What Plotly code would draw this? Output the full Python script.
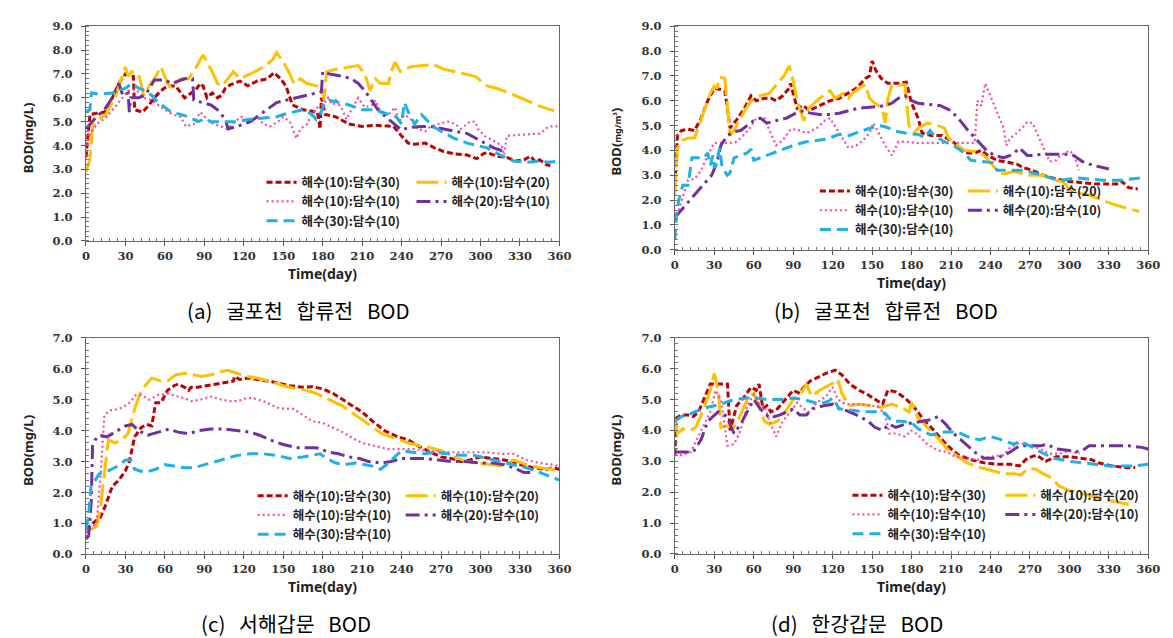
import plotly.graph_objects as go

# ---------------- data ----------------
series_names = ["해수(10):담수(30)", "해수(10):담수(20)", "해수(10):담수(10)",
                "해수(20):담수(10)", "해수(30):담수(10)"]
x_ticks = [0, 30, 60, 90, 120, 150, 180, 210, 240, 270, 300, 330, 360]
NB = "\u00a0\u00a0\u00a0"
captions = ["(a)" + NB + "굴포천" + NB + "합류전" + NB + "BOD",
            "(b)" + NB + "굴포천" + NB + "합류전" + NB + "BOD",
            "(c)" + NB + "서해갑문" + NB + "BOD",
            "(d)" + NB + "한강갑문" + NB + "BOD"]

# panel (a)
a_red_day = [0, 2, 3, 8, 14, 20, 25, 30, 34, 36, 37, 43, 48, 52, 57, 62, 68, 75, 80, 83, 87, 89, 92, 96, 100, 103, 106, 110, 117, 123, 130, 138, 143, 148, 152, 157, 165, 170, 176, 178, 179, 182, 190, 200, 210, 220, 234, 240, 245, 250, 258, 265, 272, 280, 290, 297, 302, 305, 313, 320, 327, 333, 338, 342, 345, 350, 353]
a_red_bod = [3.5, 4.6, 5.3, 5.35, 5.4, 6.0, 6.6, 7.0, 6.95, 6.9, 5.5, 5.4, 5.7, 6.0, 6.3, 6.5, 6.5, 6.0, 6.2, 6.3, 6.6, 6.5, 6.0, 6.2, 6.0, 6.1, 6.4, 6.55, 6.7, 6.5, 6.7, 6.8, 7.05, 6.8, 6.5, 5.7, 5.5, 5.45, 5.4, 4.7, 6.0, 5.3, 5.2, 4.9, 4.8, 4.85, 4.8, 4.4, 4.1, 4.05, 4.1, 3.9, 3.75, 3.65, 3.6, 3.45, 3.65, 3.7, 3.55, 3.5, 3.35, 3.4, 3.55, 3.3, 3.4, 3.2, 3.15]
a_yel_day = [0, 3, 5, 8, 12, 15, 22, 30, 32, 35, 40, 44, 48, 52, 57, 62, 65, 72, 78, 84, 89, 95, 100, 103, 108, 112, 117, 125, 135, 142, 145, 150, 155, 158, 163, 168, 175, 180, 181, 183, 190, 200, 207, 212, 216, 220, 224, 230, 232, 235, 239, 247, 258, 264, 272, 280, 290, 296, 305, 312, 322, 335, 345, 356]
a_yel_bod = [2.9, 3.4, 4.8, 5.0, 5.2, 5.3, 6.0, 7.3, 6.9, 7.1, 7.0, 6.1, 6.5, 6.8, 7.3, 6.6, 6.4, 6.8, 6.8, 7.3, 7.8, 7.2, 6.6, 6.5, 6.8, 7.1, 6.8, 7.0, 7.3, 7.6, 7.9, 7.5, 7.0, 6.6, 6.8, 6.6, 6.5, 6.3, 5.9, 7.1, 7.2, 7.3, 7.35, 7.0, 6.3, 6.8, 6.6, 6.6, 7.1, 7.5, 7.1, 7.3, 7.35, 7.4, 7.2, 7.1, 7.0, 6.9, 6.5, 6.4, 6.2, 5.9, 5.65, 5.45]
a_pnk_day = [1, 3, 10, 14, 22, 28, 32, 38, 44, 50, 55, 60, 66, 72, 76, 82, 87, 92, 97, 103, 108, 113, 118, 125, 130, 135, 140, 146, 150, 155, 160, 163, 168, 172, 176, 180, 184, 188, 190, 195, 198, 203, 207, 212, 218, 220, 225, 230, 235, 238, 242, 247, 252, 258, 262, 268, 275, 281, 285, 292, 296, 298, 303, 310, 316, 318, 320, 330, 345, 352, 360]
a_pnk_bod = [4.0, 4.5, 5.0, 5.1, 5.6, 6.0, 6.3, 6.35, 6.0, 5.9, 5.7, 5.5, 5.3, 5.2, 4.8, 4.9, 5.4, 5.1, 4.9, 4.8, 4.7, 5.0, 5.2, 5.0, 5.2, 4.9, 4.8, 5.0, 5.2, 5.0, 4.3, 4.7, 4.9, 5.3, 5.6, 5.7, 6.0, 5.7, 5.9, 5.5, 5.1, 5.6, 6.0, 5.6, 5.7, 5.9, 5.3, 5.3, 5.6, 5.0, 5.3, 5.1, 4.7, 4.6, 4.8, 4.9, 5.0, 4.9, 4.7, 5.0, 5.0, 4.7, 4.4, 4.2, 4.0, 3.6, 4.4, 4.45, 4.5, 4.8, 4.8]
a_cyn_day = [0, 3, 4, 10, 20, 25, 30, 35, 40, 45, 50, 55, 60, 65, 72, 78, 85, 90, 95, 105, 115, 125, 135, 145, 150, 158, 165, 172, 175, 178, 181, 185, 192, 200, 210, 220, 230, 236, 240, 242, 246, 250, 255, 260, 264, 270, 280, 290, 300, 305, 315, 325, 335, 345, 352, 360]
a_cyn_bod = [5.4, 5.5, 6.2, 6.15, 6.2, 6.3, 6.4, 6.6, 6.4, 6.3, 6.1, 5.8, 5.6, 5.4, 5.3, 5.2, 5.0, 5.1, 5.0, 5.0, 5.0, 5.1, 5.15, 5.2, 5.3, 5.4, 5.5, 5.3, 5.1, 5.3, 5.7, 5.9, 5.8, 5.7, 5.5, 5.5, 5.3, 5.2, 4.9, 5.8, 5.3, 4.9, 5.3, 5.0, 4.8, 4.6, 4.3, 4.1, 3.95, 3.9, 3.6, 3.35, 3.3, 3.35, 3.3, 3.35]
a_pur_day = [0, 3, 8, 14, 20, 25, 28, 32, 33, 34, 40, 45, 52, 60, 65, 75, 81, 82, 88, 95, 100, 106, 108, 115, 125, 130, 137, 145, 152, 160, 168, 175, 179, 180, 185, 195, 202, 207, 212, 217, 222, 228, 235, 240, 245, 255, 262, 270, 280, 290, 297, 303, 310, 318]
a_pur_bod = [4.7, 4.9, 5.2, 5.5, 6.0, 6.6, 6.1, 6.2, 5.4, 6.0, 6.0, 6.1, 6.75, 6.75, 6.6, 6.8, 6.8, 5.9, 5.8, 5.7, 5.5, 5.1, 4.7, 4.8, 5.0, 5.2, 5.5, 5.8, 5.9, 6.0, 6.1, 6.2, 6.25, 7.1, 7.0, 6.9, 6.8, 6.6, 6.3, 5.9, 5.5, 5.2, 4.9, 4.65, 4.75, 4.8, 4.8, 4.7, 4.6, 4.5, 4.3, 4.1, 3.9, 3.75]

# panel (b)
b_red_day = [0, 2, 5, 10, 15, 20, 25, 30, 35, 38, 42, 48, 53, 58, 62, 68, 73, 77, 82, 87, 88, 93, 98, 102, 110, 118, 125, 132, 138, 145, 148, 150, 153, 157, 162, 170, 176, 180, 185, 188, 195, 203, 210, 215, 220, 228, 233, 238, 245, 255, 260, 265, 272, 280, 290, 300, 310, 320, 330, 338, 340, 345, 352]
b_red_bod = [2.6, 4.6, 4.8, 4.85, 4.8, 5.3, 6.0, 6.5, 6.45, 6.4, 4.9, 5.3, 5.7, 6.2, 6.0, 6.1, 6.1, 6.0, 6.2, 6.5, 6.7, 5.7, 5.8, 5.6, 5.8, 6.0, 6.1, 6.3, 6.5, 6.9, 7.0, 7.6, 7.2, 6.9, 6.7, 6.7, 6.75, 5.9, 5.3, 4.7, 4.6, 4.6, 4.4, 4.2, 3.9, 3.9, 4.0, 3.8, 3.6, 3.5, 3.45, 3.3, 3.2, 3.0, 2.85, 2.75, 2.7, 2.65, 2.65, 2.65, 2.75, 2.5, 2.45]
b_yel_day = [0, 2, 6, 10, 15, 22, 27, 30, 32, 34, 38, 42, 45, 53, 58, 65, 72, 78, 83, 87, 90, 93, 97, 98, 102, 108, 115, 118, 122, 128, 132, 135, 140, 145, 148, 152, 155, 158, 160, 162, 165, 175, 178, 182, 185, 192, 200, 205, 208, 215, 220, 230, 235, 240, 245, 250, 258, 262, 270, 280, 288, 295, 300, 305, 315, 325, 335, 345, 353]
b_yel_bod = [2.2, 4.1, 4.4, 4.5, 4.5, 5.5, 6.3, 6.6, 6.5, 6.95, 6.9, 4.6, 4.8, 5.6, 6.0, 6.2, 6.3, 6.7, 7.0, 7.4, 6.8, 6.0, 5.4, 5.2, 5.7, 6.0, 6.3, 6.4, 6.1, 6.3, 6.1, 6.3, 6.5, 6.65, 6.1, 5.9, 5.8, 5.6, 5.1, 6.1, 6.6, 6.65, 5.0, 4.7, 4.9, 5.1, 5.0, 4.9, 4.5, 4.2, 4.0, 3.95, 3.8, 3.5, 3.2, 3.05, 3.15, 3.1, 3.0, 3.0, 2.8, 2.75, 2.45, 2.3, 2.2, 2.0, 1.8, 1.65, 1.55]
b_pnk_day = [1, 4, 7, 10, 15, 20, 25, 30, 35, 42, 47, 52, 57, 62, 68, 72, 77, 82, 88, 92, 100, 108, 114, 118, 125, 132, 138, 143, 148, 151, 155, 160, 165, 170, 175, 185, 200, 215, 228, 230, 233, 236, 240, 245, 250, 252, 255, 258, 264, 268, 272, 277, 282, 285, 290, 293, 297, 300, 304, 307]
b_pnk_bod = [1.2, 1.8, 2.3, 2.8, 2.85, 3.2, 3.8, 4.3, 4.3, 4.3, 4.35, 4.6, 4.9, 5.3, 5.3, 4.8, 4.2, 4.4, 4.85, 4.85, 4.7, 4.9, 5.2, 5.3, 4.7, 4.1, 4.2, 4.4, 4.7, 5.1, 4.7, 4.2, 3.8, 4.35, 4.35, 4.3, 4.3, 4.3, 4.3, 6.0, 5.8, 6.7, 6.2, 5.5, 4.9, 4.2, 4.5, 4.6, 4.9, 5.15, 5.1, 4.5, 3.9, 3.55, 3.6, 3.8, 3.9, 4.0, 3.8, 3.2]
b_cyn_day = [0, 1, 3, 6, 10, 13, 18, 22, 25, 27, 29, 30, 32, 34, 36, 40, 42, 45, 50, 55, 58, 60, 70, 80, 90, 100, 115, 125, 133, 140, 148, 155, 160, 170, 180, 185, 190, 194, 197, 205, 212, 220, 225, 235, 242, 245, 255, 265, 272, 280, 288, 295, 305, 315, 325, 340, 350, 355]
b_cyn_bod = [0.4, 1.3, 2.0, 2.6, 2.6, 3.7, 3.7, 3.7, 3.9, 3.4, 3.8, 3.3, 3.5, 4.1, 3.3, 3.0, 3.1, 3.7, 3.8, 3.9, 4.05, 3.6, 3.8, 4.0, 4.2, 4.35, 4.45, 4.65, 4.6, 4.75, 4.9, 5.0, 4.95, 4.75, 4.65, 4.65, 4.5, 4.8, 4.6, 4.35, 4.2, 3.9, 3.6, 3.55, 3.5, 3.2, 3.2, 3.2, 3.1, 3.0, 2.85, 2.8, 2.9, 2.85, 2.8, 2.8, 2.85, 2.9]
b_pur_day = [0, 5, 12, 20, 28, 32, 35, 40, 45, 50, 55, 60, 65, 70, 77, 85, 92, 98, 103, 110, 118, 125, 132, 140, 150, 160, 165, 170, 175, 180, 185, 195, 202, 210, 217, 223, 230, 237, 243, 250, 255, 258, 262, 268, 272, 280, 290, 300, 303, 310, 318, 325, 330]
b_pur_bod = [1.3, 1.6, 2.0, 2.5, 3.0, 3.5, 4.2, 4.6, 4.75, 4.8, 5.0, 5.2, 5.3, 5.1, 5.2, 5.3, 5.5, 5.6, 5.5, 5.45, 5.45, 5.5, 5.6, 5.7, 5.75, 5.8, 5.9, 6.1, 6.2, 6.0, 5.9, 5.85, 5.8, 5.6, 5.2, 4.8, 4.4, 4.0, 3.8, 3.7, 3.8, 3.9, 4.1, 3.8, 3.8, 3.85, 3.85, 3.85, 3.8, 3.55, 3.4, 3.3, 3.25]

# panel (c)
c_red_day = [0, 5, 11, 15, 20, 25, 30, 33, 37, 42, 46, 50, 53, 57, 62, 67, 70, 75, 78, 80, 85, 92, 100, 108, 112, 113, 117, 123, 130, 137, 145, 155, 165, 172, 180, 188, 195, 203, 210, 218, 227, 237, 245, 253, 262, 270, 278, 285, 292, 300, 310, 318, 324, 330, 340, 350, 355, 360]
c_red_bod = [0.8, 1.0, 1.2, 1.6, 2.2, 2.4, 2.7, 3.0, 3.8, 4.1, 4.2, 4.15, 4.9, 4.9, 5.3, 5.45, 5.5, 5.4, 5.3, 5.4, 5.4, 5.45, 5.5, 5.55, 5.6, 5.75, 5.65, 5.7, 5.65, 5.6, 5.55, 5.45, 5.4, 5.42, 5.35, 5.2, 5.0, 4.8, 4.6, 4.3, 4.0, 3.8, 3.7, 3.5, 3.3, 3.15, 3.1, 3.0, 3.05, 3.15, 3.1, 3.05, 3.0, 2.9, 2.8, 2.75, 2.8, 2.75]
c_yel_day = [3, 8, 11, 14, 17, 22, 27, 32, 37, 42, 46, 50, 57, 62, 68, 75, 82, 88, 95, 102, 108, 115, 122, 130, 140, 150, 160, 168, 175, 185, 195, 205, 215, 225, 235, 245, 255, 262, 270, 280, 290, 300, 310, 318, 325, 335, 345, 355, 360]
c_yel_bod = [0.8, 0.9, 1.5, 2.7, 3.7, 3.6, 3.7, 3.9, 4.7, 5.3, 5.5, 5.7, 5.6, 5.6, 5.8, 5.85, 5.8, 5.75, 5.8, 5.9, 5.95, 5.85, 5.75, 5.7, 5.6, 5.45, 5.35, 5.3, 5.2, 5.0, 4.8, 4.5, 4.2, 3.9, 3.75, 3.6, 3.5, 3.45, 3.35, 3.15, 3.0, 2.95, 2.9, 2.85, 3.05, 2.9, 2.8, 2.75, 2.7]
c_pnk_day = [0, 8, 11, 14, 18, 25, 32, 38, 42, 48, 55, 62, 70, 75, 80, 87, 95, 103, 110, 115, 122, 127, 135, 145, 152, 158, 165, 172, 180, 188, 195, 203, 210, 220, 230, 240, 250, 260, 275, 290, 305, 315, 325, 335, 345, 355, 360]
c_pnk_bod = [0.7, 1.0, 2.5, 4.5, 4.65, 4.7, 4.85, 5.15, 5.15, 5.0, 5.15, 5.2, 5.1, 5.05, 4.95, 5.0, 5.1, 5.0, 4.95, 4.95, 5.05, 5.05, 4.95, 4.75, 4.7, 4.7, 4.5, 4.3, 4.25, 4.1, 3.95, 3.75, 3.6, 3.5, 3.4, 3.4, 3.4, 3.35, 3.3, 3.3, 3.3, 3.25, 3.25, 3.05, 2.95, 2.9, 2.85]
c_cyn_day = [0, 2, 4, 7, 10, 17, 24, 30, 34, 37, 45, 53, 60, 67, 75, 82, 90, 97, 105, 115, 125, 135, 145, 155, 165, 172, 178, 183, 190, 197, 205, 212, 218, 224, 230, 236, 240, 248, 258, 265, 275, 285, 295, 305, 315, 325, 335, 345, 355, 360]
c_cyn_bod = [0.8, 1.3, 2.3, 2.4, 2.6, 2.7, 2.85, 3.05, 3.05, 2.75, 2.65, 2.75, 2.9, 2.85, 2.8, 2.8, 2.9, 3.0, 3.1, 3.2, 3.25, 3.25, 3.2, 3.1, 3.15, 3.2, 3.25, 3.1, 2.95, 2.9, 2.95, 2.9, 2.85, 2.75, 2.95, 3.2, 3.35, 3.3, 3.25, 3.3, 3.25, 3.2, 3.2, 3.1, 3.0, 2.9, 2.8, 2.65, 2.5, 2.4]
c_pur_day = [0, 2, 4, 5, 7, 10, 16, 22, 30, 35, 40, 47, 55, 63, 70, 78, 86, 95, 105, 115, 125, 132, 140, 150, 160, 168, 175, 185, 192, 200, 208, 215, 225, 232, 240, 250, 258, 268, 278, 288, 300, 310, 318, 325, 333, 338]
c_pur_bod = [0.5, 0.6, 1.7, 3.5, 3.7, 3.85, 3.8, 3.95, 4.15, 4.2, 4.0, 3.85, 3.95, 4.05, 3.95, 3.9, 4.0, 4.05, 4.05, 4.0, 3.95, 3.85, 3.7, 3.55, 3.45, 3.45, 3.45, 3.3, 3.25, 3.15, 3.1, 3.0, 2.95, 3.0, 3.1, 3.1, 3.1, 3.05, 3.0, 3.0, 2.95, 2.95, 2.9, 2.8, 2.65, 2.65]

# panel (d)
d_red_day = [0, 1, 5, 10, 14, 18, 22, 27, 35, 40, 42, 47, 53, 58, 62, 64, 67, 70, 73, 78, 84, 90, 95, 98, 103, 110, 115, 122, 127, 133, 140, 147, 153, 158, 162, 168, 175, 182, 190, 197, 203, 210, 216, 225, 235, 245, 255, 262, 268, 275, 282, 290, 300, 310, 317, 322, 332, 342, 350]
d_red_bod = [3.2, 4.4, 4.5, 4.5, 4.45, 4.6, 5.0, 5.5, 5.5, 5.5, 4.0, 4.8, 5.1, 5.4, 5.3, 5.5, 4.7, 4.8, 4.6, 4.7, 5.0, 5.3, 5.2, 5.4, 5.6, 5.75, 5.85, 5.95, 5.8, 5.5, 5.3, 5.15, 5.0, 4.85, 5.3, 5.25, 5.05, 4.75, 4.3, 4.0, 3.7, 3.4, 3.2, 3.05, 2.95, 2.9, 2.9, 2.85, 3.1, 3.2, 3.0, 3.15, 3.15, 3.1, 3.05, 2.95, 2.85, 2.8, 2.8]
d_yel_day = [0, 2, 6, 12, 16, 22, 27, 30, 33, 35, 40, 45, 50, 55, 60, 64, 68, 72, 78, 84, 90, 96, 100, 104, 110, 117, 121, 124, 127, 133, 140, 150, 157, 165, 172, 178, 180, 185, 192, 200, 207, 215, 222, 232, 240, 250, 258, 263, 268, 274, 280, 287, 292, 300, 310, 318, 328, 340, 350]
d_yel_bod = [4.3, 3.9, 4.05, 4.0, 4.1, 4.7, 5.3, 5.85, 5.3, 4.1, 4.15, 4.1, 4.5, 5.0, 5.2, 4.8, 4.3, 4.2, 4.3, 4.6, 5.0, 5.2, 5.5, 5.1, 5.3, 5.45, 5.55, 5.65, 5.2, 4.8, 4.85, 4.8, 4.75, 4.85, 4.75, 4.6, 4.9, 4.4, 4.1, 3.75, 3.4, 3.15, 2.95, 2.8, 2.7, 2.6, 2.6, 2.55, 2.75, 2.75, 2.6, 2.45, 2.2, 2.05, 1.95, 1.85, 1.75, 1.65, 1.55]
d_pnk_day = [0, 5, 12, 20, 27, 31, 35, 40, 45, 50, 55, 60, 65, 68, 72, 77, 82, 88, 93, 98, 102, 108, 115, 120, 124, 130, 140, 150, 155, 160, 163, 168, 175, 180, 185, 192, 200, 207, 213, 222, 230, 240, 250, 255, 262, 270, 278, 285, 293, 300, 308]
d_pnk_bod = [3.2, 3.2, 3.3, 4.0, 4.6, 5.3, 5.0, 3.5, 3.55, 4.0, 4.8, 5.15, 4.8, 4.8, 4.3, 3.8, 4.3, 4.6, 4.9, 4.7, 4.6, 4.9, 5.1, 5.4, 5.0, 4.85, 4.85, 4.8, 4.75, 4.5, 3.9, 3.9, 3.8, 4.0, 3.85, 3.55, 3.35, 3.3, 3.15, 3.1, 3.05, 3.15, 3.2, 3.45, 3.6, 3.5, 3.4, 3.25, 3.25, 3.35, 3.25]
d_cyn_day = [0, 5, 10, 15, 25, 35, 45, 55, 62, 70, 80, 90, 98, 105, 110, 117, 120, 125, 135, 145, 155, 160, 165, 172, 180, 185, 195, 205, 215, 225, 232, 240, 248, 255, 258, 262, 270, 278, 288, 300, 310, 320, 330, 340, 350, 360]
d_cyn_bod = [4.3, 4.45, 4.5, 4.6, 4.75, 4.85, 5.0, 5.05, 5.05, 5.0, 5.0, 5.05, 5.0, 4.9, 4.85, 4.95, 5.05, 4.7, 4.65, 4.6, 4.6, 4.55, 4.3, 4.3, 4.25, 4.05, 3.85, 3.95, 3.95, 3.75, 3.7, 3.8, 3.7, 3.6, 3.55, 3.65, 3.5, 3.3, 3.1, 3.0, 2.95, 2.9, 2.85, 2.85, 2.85, 2.9]
d_pur_day = [0, 5, 14, 20, 25, 33, 38, 40, 45, 50, 55, 60, 65, 72, 80, 85, 90, 95, 100, 105, 113, 120, 125, 130, 138, 147, 152, 158, 163, 168, 175, 182, 188, 195, 200, 206, 212, 220, 228, 235, 245, 250, 255, 262, 270, 278, 283, 290, 300, 305, 310, 315, 325, 335, 345, 355, 360]
d_pur_bod = [3.3, 3.3, 3.3, 3.7, 4.3, 4.6, 4.5, 4.4, 3.9, 4.2, 4.6, 5.0, 4.7, 4.4, 4.5, 4.6, 4.7, 4.5, 4.5, 4.7, 4.8, 4.85, 4.7, 4.65, 4.5, 4.3, 4.1, 4.0, 4.2, 4.1, 4.2, 4.25, 4.3, 4.35, 4.45, 4.2, 3.9, 3.6, 3.3, 3.1, 3.1, 3.2, 3.3, 3.5, 3.5, 3.5, 3.55, 3.4, 3.35, 3.3, 3.35, 3.5, 3.5, 3.5, 3.5, 3.45, 3.4]

panels = [
    [(a_red_day, a_red_bod), (a_yel_day, a_yel_bod), (a_pnk_day, a_pnk_bod), (a_pur_day, a_pur_bod), (a_cyn_day, a_cyn_bod)],
    [(b_red_day, b_red_bod), (b_yel_day, b_yel_bod), (b_pnk_day, b_pnk_bod), (b_pur_day, b_pur_bod), (b_cyn_day, b_cyn_bod)],
    [(c_red_day, c_red_bod), (c_yel_day, c_yel_bod), (c_pnk_day, c_pnk_bod), (c_pur_day, c_pur_bod), (c_cyn_day, c_cyn_bod)],
    [(d_red_day, d_red_bod), (d_yel_day, d_yel_bod), (d_pnk_day, d_pnk_bod), (d_pur_day, d_pur_bod), (d_cyn_day, d_cyn_bod)],
]
for p in panels:
    for dx, dy in p:
        assert len(dx) == len(dy), (len(dx), len(dy))

# ---------------- styling ----------------
W, H = 1173, 638
colors = ["#C00000", "#FFC000", "#FF47A8", "#7030A0", "#1EB1E8"]
dashes = ["6px,3px", "22px,6px", "2px,3px", "14px,5px,3px,5px", "11px,6px"]
widths = [3, 3, 2.2, 3, 3]
legend_col = [0, 1, 0, 1, 0]   # 0 = left column, 1 = right column

# pixel geometry of each panel: left, right, top, bottom(x-axis)
geom = [
    (75, 555, 11.5, 231),
    (672, 1152, 11.5, 240),
    (75, 555, 330, 551.5),
    (672, 1152, 330, 551),
]
ymax = [9, 9, 7, 7]
ytitles = ["BOD(mg/L)", "BOD(<span style='font-size:9px'>mg/m³</span>)", "BOD(mg/L)", "BOD(mg/L)"]
ytitle_x = [16, 612, 16, 612]
legend_text_off = [(224, 376), (188, 338), (215, 365), (221, 376)]
caption_xy = [(290, 302), (886, 302), (278, 622), (857, 622)]

def px_x(v):
    return v / W

def px_y(v):
    return 1 - v / H

tick_font = dict(family="DejaVu Serif", size=11.5, color="#333333", weight="bold")
fig = go.Figure()
annotations = []
layout = {}

for i, series in enumerate(panels):
    sfx = "" if i == 0 else str(i + 1)
    left, right, top, bottom = geom[i]
    for j, (dx, dy) in enumerate(series):
        k = 2 * i + legend_col[j]
        leg = "legend" + ("" if k == 0 else str(k + 1))
        fig.add_trace(go.Scatter(
            x=dx, y=dy, mode="lines", name=series_names[j],
            line=dict(color=colors[j], width=widths[j], dash=dashes[j]),
            xaxis="x" + sfx, yaxis="y" + sfx, legend=leg, showlegend=True,
        ))
    layout["xaxis" + sfx] = dict(
        domain=[px_x(left), px_x(right)], anchor="y" + sfx, range=[0, 360],
        tickmode="array", tickvals=x_ticks, ticks="outside", ticklen=4, tickcolor="#555",
        minor=dict(dtick=6, tick0=0, ticks="inside", ticklen=3, tickcolor="#777"),
        showline=True, linecolor="#666", linewidth=1.2, mirror=True,
        showgrid=False, zeroline=False, tickfont=tick_font, ticklabelstandoff=0,
    )
    layout["yaxis" + sfx] = dict(
        domain=[px_y(bottom), px_y(top)], anchor="x" + sfx, range=[0, ymax[i]],
        dtick=1, tickformat=".1f", ticks="outside", ticklen=4, tickcolor="#555",
        minor=dict(dtick=0.2, ticks="inside", ticklen=3, tickcolor="#777"),
        showline=True, linecolor="#666", linewidth=1.2, mirror=True,
        showgrid=False, zeroline=False, tickfont=tick_font, ticklabelstandoff=6,
    )
    for c in range(2):
        k = 2 * i + c
        key = "legend" + ("" if k == 0 else str(k + 1))
        layout[key] = dict(
            x=px_x(left + legend_text_off[i][c] - 46), xanchor="left",
            y=px_y(bottom - 75), yanchor="top",
            orientation="v", bgcolor="rgba(0,0,0,0)", borderwidth=0,
            itemwidth=30, tracegroupgap=0,
            font=dict(family="Noto Sans CJK KR", size=12.5, color="#222", weight="bold"),
        )
    # axis titles and panel captions
    annotations.append(dict(
        text="Time(day)", xref="paper", yref="paper",
        x=px_x((left + right) / 2), y=px_y(bottom + 33),
        xanchor="center", yanchor="middle", showarrow=False,
        font=dict(family="Noto Sans", size=14, color="#222", weight="bold"),
    ))
    annotations.append(dict(
        text=ytitles[i], xref="paper", yref="paper", textangle=-90,
        x=px_x(ytitle_x[i]), y=px_y((top + bottom) / 2 + 4),
        xanchor="center", yanchor="middle", showarrow=False,
        font=dict(family="Noto Sans", size=13, color="#222", weight="bold"),
    ))
    annotations.append(dict(
        text=captions[i], xref="paper", yref="paper",
        x=px_x(caption_xy[i][0]), y=px_y(caption_xy[i][1]),
        xanchor="center", yanchor="middle", showarrow=False,
        font=dict(family="Noto Sans CJK KR", size=20.5, color="#000"),
    ))

fig.update_layout(
    width=W, height=H, margin=dict(l=0, r=0, t=0, b=0),
    paper_bgcolor="white", plot_bgcolor="white",
    annotations=annotations, **layout,
)
fig.write_html("out.html")
